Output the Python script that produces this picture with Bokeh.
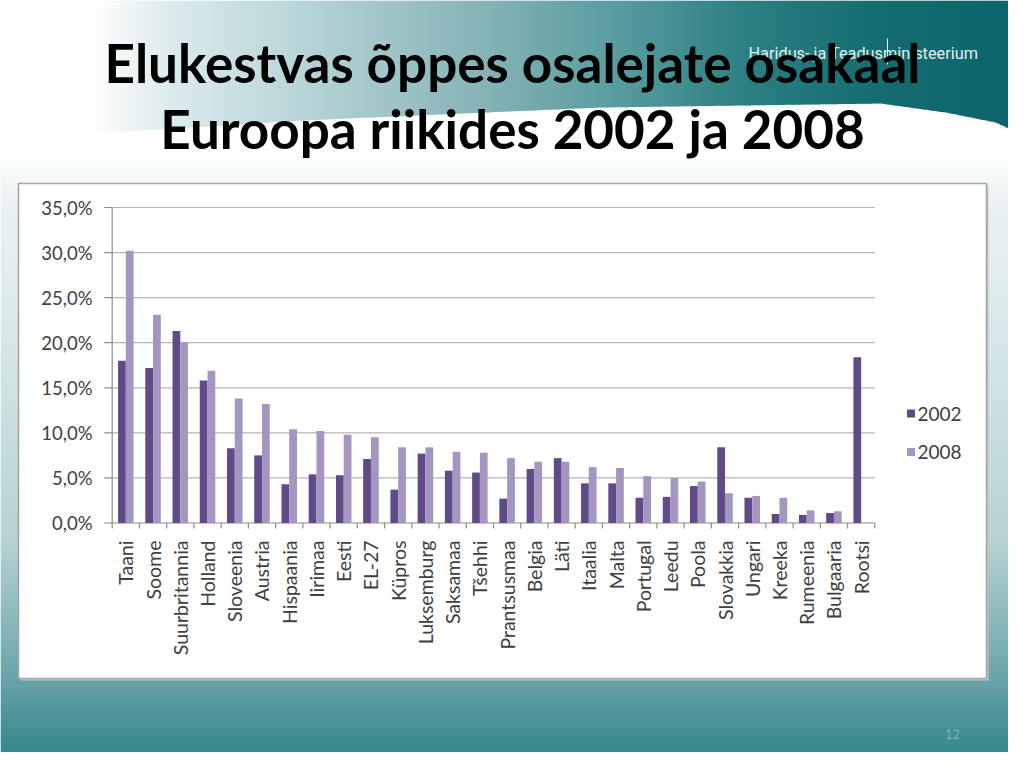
import math
import numpy as np
from bokeh.plotting import figure
from bokeh.models import Range1d, ColumnDataSource
from bokeh.core.properties import value
from bokeh.transform import dodge
from bokeh.embed import file_html
from bokeh.resources import INLINE

# ---------------- data ----------------
categories = ["Taani", "Soome", "Suurbritannia", "Holland", "Sloveenia", "Austria",
              "Hispaania", "Iirimaa", "Eesti", "EL-27", "Küpros", "Luksemburg",
              "Saksamaa", "Tšehhi", "Prantsusmaa", "Belgia", "Läti", "Itaalia",
              "Malta", "Portugal", "Leedu", "Poola", "Slovakkia", "Ungari",
              "Kreeka", "Rumeenia", "Bulgaaria", "Rootsi"]
v2002 = [18.0, 17.2, 21.3, 15.8, 8.3, 7.5, 4.3, 5.4, 5.3, 7.1, 3.7, 7.7, 5.8, 5.6,
         2.7, 6.0, 7.2, 4.4, 4.4, 2.8, 2.9, 4.1, 8.4, 2.8, 1.0, 0.9, 1.1, 18.4]
v2008 = [30.2, 23.1, 20.0, 16.9, 13.8, 13.2, 10.4, 10.2, 9.8, 9.5, 8.4, 8.4, 7.9, 7.8,
         7.2, 6.8, 6.8, 6.2, 6.1, 5.2, 5.0, 4.6, 3.3, 3.0, 2.8, 1.4, 1.3, None]
series = ["2002", "2008"]
y_ticks = [0, 5, 10, 15, 20, 25, 30, 35]
y_tick_labels = ["0,0%", "5,0%", "10,0%", "15,0%", "20,0%", "25,0%", "30,0%", "35,0%"]
title_lines = ["Elukestvas õppes osalejate osakaal", "Euroopa riikides 2002 ja 2008"]
logo_text = "Haridus- ja Teadusministeerium"
page_number = "12"

# ---------------- layout constants (screen px of the slide) ----------------
W, H = 1008, 752
OFF = 0
X0, X1 = 111.7, 874.3      # plot area left / right
Y0, YT = 522.5, 207.0      # y of 0% and of 35%
YMAX = 35.0

C2002 = "#604a87"
C2008 = "#a496c0"
TXT = "#404040"
FONT = value("Lato")

p = figure(width=W, height=H, output_backend="svg", toolbar_location=None,
           x_range=Range1d(OFF, OFF + W), y_range=Range1d(OFF + H, OFF),
           x_axis_type=None, y_axis_type=None, min_border=0)
p.outline_line_color = None
p.background_fill_color = "white"
p.border_fill_color = "white"

n = len(categories)
kx = (X1 - X0) / n
xs = -0.5 - (X0 - OFF) / kx
p.extra_x_ranges = {"cat": Range1d(xs, xs + W / kx)}
ky = (Y0 - YT) / YMAX
ye = YMAX + (YT - OFF) / ky
p.extra_y_ranges = {"pct": Range1d(ye - H / ky, ye)}


def hex2rgb(h):
    h = h.lstrip("#")
    return [int(h[i:i + 2], 16) for i in (0, 2, 4)]


def grad(pos, cols, t):
    rgb = [hex2rgb(c) for c in cols]
    out = []
    for k in range(3):
        out.append(int(round(np.interp(t, pos, [c[k] for c in rgb]))))
    return "#%02x%02x%02x" % tuple(out)


# base vertical gradient
vpos = [0, 150, 200, 350, 540, 640, 680, 720, 768]
vcol = ["#ffffff", "#ffffff", "#ebf3f4", "#d6e6e8", "#b6d2d4", "#80b2b4", "#67a3a6",
        "#4a9396", "#2a8385"]
ys = np.arange(0, 768, 4)
p.quad(left=0, right=1024, top=ys, bottom=ys + 5,
       fill_color=[grad(vpos, vcol, y + 2) for y in ys], line_color=None)

# header horizontal gradient with wave boundary
hpos = [0, 90, 170, 300, 500, 612, 745, 878, 1024]
hcol = ["#ffffff", "#ffffff", "#dcebed", "#b8d5d8", "#80b0b3", "#5a9da0", "#2c7f83",
        "#146c71", "#0b6469"]
bx = [0, 17, 300, 600, 880, 945, 995, 1024]
by = [139, 138, 120, 107, 103, 112, 122, 135]
xsx = np.arange(0, 1024, 3)
p.quad(left=xsx, right=xsx + 4, top=0, bottom=[np.interp(x + 1.5, bx, by) for x in xsx],
       fill_color=[grad(hpos, hcol, x + 1.5) for x in xsx], line_color=None)

# logo
p.text(x=[748], y=[53], text=[logo_text], text_font=value("Roboto"),
       text_font_size="16.3px", text_color="#e2eeee", text_baseline="middle")
p.segment(x0=[887], y0=[38], x1=[887], y1=[64], line_color="#e2eeee", line_width=1)

# title
p.text(x=[512, 512], y=[62, 128], text=title_lines, text_font=FONT,
       text_font_style="bold", text_font_size="53px", text_color="black",
       text_align="center", text_baseline="alphabetic")

# chart box
p.quad(left=[20], right=[988], top=[185], bottom=[680], fill_color="#c4c4c4", line_color=None)
p.quad(left=[18], right=[986], top=[183], bottom=[678], fill_color="white",
       line_color="#a3a3a3", line_width=1.5)

# gridlines
p.segment(x0=-0.5, x1=n - 0.5, y0=y_ticks[1:], y1=y_ticks[1:], line_color="#b5b5b5",
          line_width=1.2, x_range_name="cat", y_range_name="pct")
# axes
p.segment(x0=[-0.5], x1=[-0.5], y0=[0], y1=[YMAX], line_color="#8c8c8c", line_width=1.2,
          x_range_name="cat", y_range_name="pct")
p.segment(x0=[-0.5], x1=[n - 0.5], y0=[0], y1=[0], line_color="#8c8c8c", line_width=1.2,
          x_range_name="cat", y_range_name="pct")
p.segment(x0=-0.5 - 8 / kx, x1=-0.5, y0=y_ticks, y1=y_ticks, line_color="#8c8c8c",
          line_width=1.2, x_range_name="cat", y_range_name="pct")
bnd = [i - 0.5 for i in range(n + 1)]
p.segment(x0=bnd, x1=bnd, y0=0, y1=-5.5 / ky, line_color="#8c8c8c", line_width=1.2,
          x_range_name="cat", y_range_name="pct")

# bars
BW = 0.285
src02 = ColumnDataSource(dict(idx=list(range(n)), val=v2002))
idx08 = [i for i, v in enumerate(v2008) if v is not None]
src08 = ColumnDataSource(dict(idx=idx08, val=[v2008[i] for i in idx08]))
p.vbar(x=dodge("idx", -BW / 2), top="val", bottom=0, width=BW, source=src02,
       fill_color=C2002, line_color=None, x_range_name="cat", y_range_name="pct")
p.vbar(x=dodge("idx", BW / 2), top="val", bottom=0, width=BW, source=src08,
       fill_color=C2008, line_color=None, x_range_name="cat", y_range_name="pct")

# y tick labels
p.text(x=92, y=y_ticks, text=y_tick_labels, text_font=FONT, text_font_size="18.5px",
       text_color=TXT, text_align="right", text_baseline="middle", y_range_name="pct")
# x category labels (rotated)
p.text(x=list(range(n)), y=540, text=categories, angle=math.pi / 2, text_font=FONT,
       text_font_size="19.5px", text_color=TXT, text_align="right",
       text_baseline="middle", x_range_name="cat")

# legend
p.scatter(x=[910.5, 910.5], y=[413, 451.5], marker="square", size=8,
          fill_color=[C2002, C2008], line_color=None)
p.text(x=917, y=[413, 451.5], text=series, text_font=FONT, text_font_size="19px",
       text_color=TXT, text_baseline="middle")

# page number
p.text(x=[952], y=[733], text=[page_number], text_font=FONT, text_font_size="13px",
       text_color="#7ab2b4", text_align="center", text_baseline="middle")

open("out.html", "w").write(file_html(p, INLINE))
